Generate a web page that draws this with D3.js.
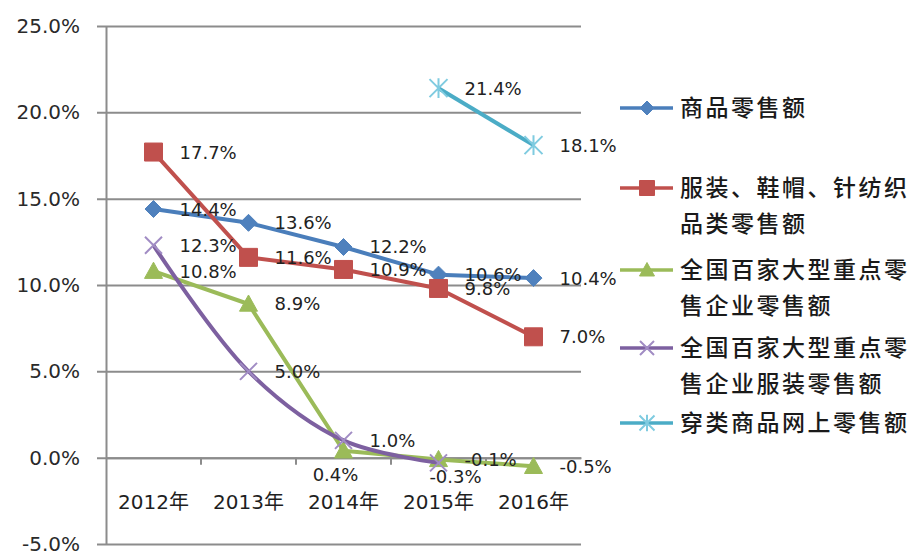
<!DOCTYPE html>
<html>
<head>
<meta charset="utf-8">
<script src="https://cdn.jsdelivr.net/npm/d3@7"></script>
<style>
  body { margin: 0; background: #fff; }
  svg { display: block; }
</style>
</head>
<body>
<div class="chart"></div>
<script>
// data
var years = ["2012年", "2013年", "2014年", "2015年", "2016年"];
var seriesNames = [
  ["商品零售额"],
  ["服装、鞋帽、针纺织", "品类零售额"],
  ["全国百家大型重点零", "售企业零售额"],
  ["全国百家大型重点零", "售企业服装零售额"],
  ["穿类商品网上零售额"]
];
var retailSales = [14.4, 13.6, 12.2, 10.6, 10.4];
var apparelSales = [17.7, 11.6, 10.9, 9.8, 7.0];
var top100Sales = [10.8, 8.9, 0.4, -0.1, -0.5];
var top100Apparel = [12.3, 5.0, 1.0, -0.3, null];
var onlineApparel = [null, null, null, 21.4, 18.1];
var yTicks = [-5, 0, 5, 10, 15, 20, 25];

var svgWidth = 915;
var svgHeight = 552;

// plot area
var plotLeft = 106, plotRight = 581, plotTop = 26, plotBottom = 544;

var svg = d3.select(".chart")
  .append("svg")
  .attr("width", svgWidth)
  .attr("height", svgHeight);

var x = d3.scalePoint().domain(years).range([plotLeft, plotRight]).padding(0.5);
var xBand = d3.scaleBand().domain(years).range([plotLeft, plotRight]);
var y = d3.scaleLinear().domain([-5, 25]).range([plotBottom, plotTop]);

var numFont = "'DejaVu Sans', 'Noto Sans CJK SC', sans-serif";
var cjkFont = "'Noto Sans CJK SC', sans-serif";

// percent with a plain hyphen minus, like the original
var pct = d => d3.format(".1%")(d / 100).replace("\u2212", "-");

// y axis with gridlines
var yAxis = svg.append("g")
  .attr("transform", `translate(${plotLeft},0)`)
  .call(d3.axisLeft(y)
    .tickValues(yTicks)
    .tickSizeInner(-(plotRight - plotLeft))
    .tickSizeOuter(0)
    .tickPadding(26)
    .tickFormat(pct));

yAxis.select(".domain").attr("stroke", "#8c8c8c").attr("stroke-width", 2);
yAxis.selectAll(".tick line")
  .attr("x1", -9)
  .attr("stroke", "#8c8c8c")
  .attr("stroke-width", 2);
yAxis.selectAll(".tick text")
  .attr("font-family", numFont)
  .attr("font-size", 20)
  .attr("fill", "#2a2a2a");

// x axis at 0%
var xAxis = svg.append("g")
  .attr("transform", `translate(0,${y(0)})`)
  .call(d3.axisBottom(xBand)
    .tickValues(years.slice(1))
    .tickSizeInner(7)
    .tickSizeOuter(0)
    .tickFormat(""));
xAxis.select(".domain").attr("stroke", "#8c8c8c").attr("stroke-width", 2);
xAxis.selectAll(".tick line")
  .attr("transform", d => `translate(${-xBand.bandwidth() / 2},0)`)
  .attr("stroke", "#8c8c8c")
  .attr("stroke-width", 2);

svg.append("g")
  .selectAll("text")
  .data(years)
  .enter()
  .append("text")
  .attr("x", d => x(d))
  .attr("y", 502)
  .attr("dy", "0.35em")
  .attr("text-anchor", "middle")
  .attr("font-family", numFont)
  .attr("font-size", 20)
  .attr("fill", "#1f1f1f")
  .text(d => d);

// marker shapes
function markerPath(kind, s) {
  var h = s / 2;
  if (kind === "diamond") return `M0,${-h}L${h},0L0,${h}L${-h},0Z`;
  if (kind === "square") return `M${-h},${-h}H${h}V${h}H${-h}Z`;
  if (kind === "triangle") return `M0,${-h}L${h},${h * 0.8}L${-h},${h * 0.8}Z`;
  if (kind === "x") return `M${-h},${-h}L${h},${h}M${-h},${h}L${h},${-h}`;
  return `M${-h},${-h}L${h},${h}M${-h},${h}L${h},${-h}M0,${-h * 1.1}V${h * 1.1}`;
}

var series = [
  { values: retailSales, color: "#4a7ebb", mcolor: "#4f81bd", marker: "diamond", size: 17, filled: true, curve: d3.curveLinear },
  { values: apparelSales, color: "#c0504d", mcolor: "#c0504d", marker: "square", size: 18, filled: true, curve: d3.curveLinear },
  { values: top100Sales, color: "#9bbb59", mcolor: "#9bbb59", marker: "triangle", size: 18, filled: true, curve: d3.curveLinear },
  { values: top100Apparel, color: "#7d60a0", mcolor: "#a18cc4", marker: "x", size: 17, filled: false, curve: d3.curveCatmullRom },
  { values: onlineApparel, color: "#4bacc6", mcolor: "#7fcbe0", marker: "star", size: 18, filled: false, curve: d3.curveLinear }
];

// lines + markers
series.forEach(function(s) {
  var pts = years.map((yr, i) => ({ yr: yr, v: s.values[i] })).filter(d => d.v !== null);
  var line = d3.line()
    .x(d => x(d.yr))
    .y(d => y(d.v))
    .curve(s.curve);

  svg.append("path")
    .datum(pts)
    .attr("d", line)
    .attr("fill", "none")
    .attr("stroke", s.color)
    .attr("stroke-width", 4)
    .attr("stroke-linejoin", "round");

  svg.append("g")
    .selectAll("path")
    .data(pts)
    .enter()
    .append("path")
    .attr("transform", d => `translate(${x(d.yr)},${y(d.v)})`)
    .attr("d", markerPath(s.marker, s.size))
    .attr("fill", s.filled ? s.mcolor : "none")
    .attr("stroke", s.mcolor)
    .attr("stroke-width", s.filled ? 1 : 2);
});

// data labels (right of point unless noted)
var labelShift = { "2-2": [-8, 24, "middle"], "3-3": [17, 14, "middle"] };
series.forEach(function(s, si) {
  var pts = years.map((yr, i) => ({ yr: yr, v: s.values[i], key: si + "-" + i })).filter(d => d.v !== null);
  svg.append("g")
    .selectAll("text")
    .data(pts)
    .enter()
    .append("text")
    .attr("x", d => x(d.yr) + (labelShift[d.key] ? labelShift[d.key][0] : 26))
    .attr("y", d => y(d.v) + (labelShift[d.key] ? labelShift[d.key][1] : 0))
    .attr("dy", "0.36em")
    .attr("text-anchor", d => labelShift[d.key] ? labelShift[d.key][2] : "start")
    .attr("font-family", numFont)
    .attr("font-size", 18)
    .attr("fill", "#222")
    .text(d => pct(d.v));
});

// legend
var legendRows = [108, 188, 270, 348, 423];
var legend = svg.append("g");
series.forEach(function(s, si) {
  var g = legend.append("g").attr("transform", `translate(0,${legendRows[si]})`);
  g.append("line")
    .attr("x1", 620).attr("x2", 673)
    .attr("stroke", s.color)
    .attr("stroke-width", 3.5);
  g.append("path")
    .attr("transform", "translate(647,0)")
    .attr("d", markerPath(s.marker, s.size - 3))
    .attr("fill", s.filled ? s.mcolor : "none")
    .attr("stroke", s.mcolor)
    .attr("stroke-width", s.filled ? 1 : 2);
  seriesNames[si].forEach(function(t, li) {
    g.append("text")
      .attr("x", 680)
      .attr("y", li * 36)
      .attr("dy", "0.36em")
      .attr("font-family", cjkFont)
      .attr("font-size", 23)
      .attr("font-weight", 500)
      .attr("letter-spacing", 2.5)
      .attr("fill", "#1a1a1a")
      .text(t);
  });
});
</script>
</body>
</html>
